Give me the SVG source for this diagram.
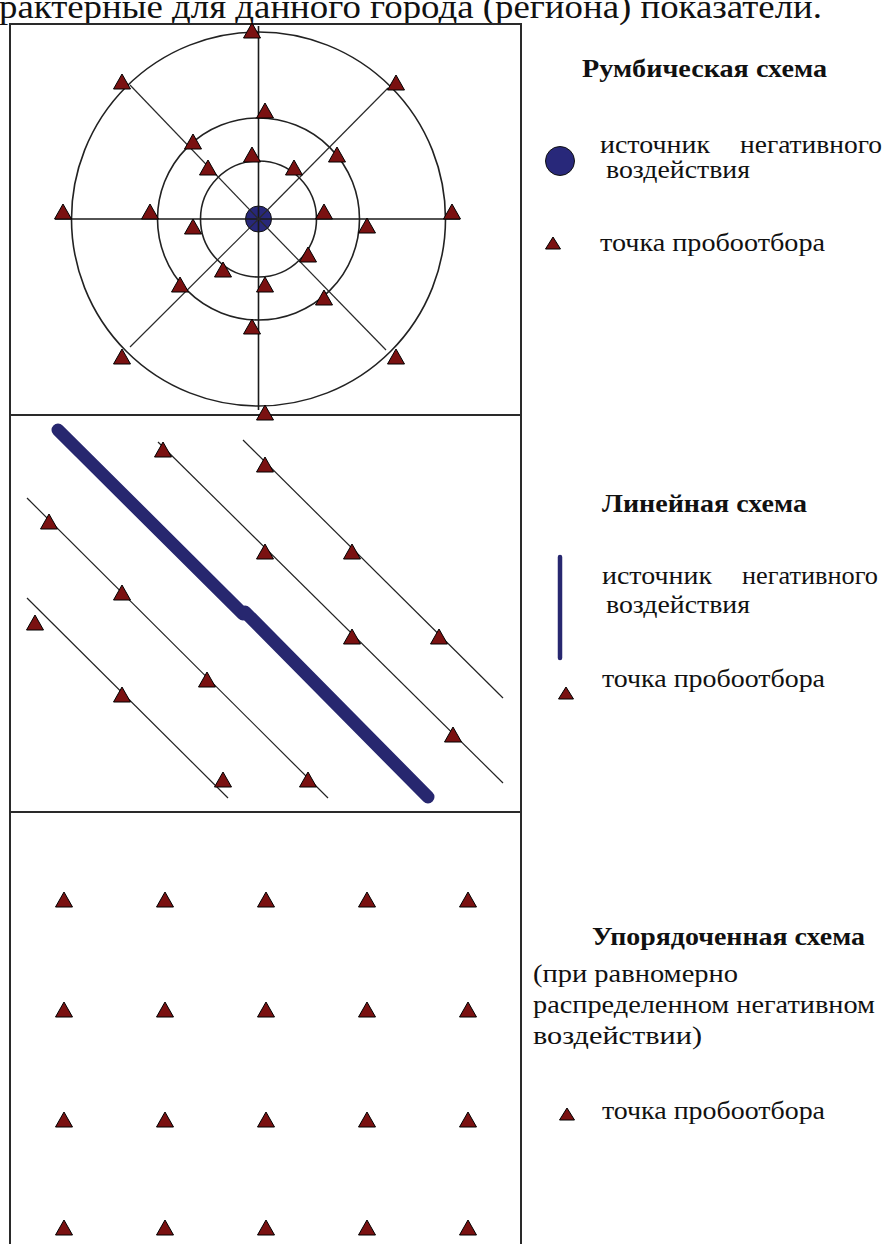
<svg xmlns="http://www.w3.org/2000/svg" xmlns:xlink="http://www.w3.org/1999/xlink" width="883" height="1244" viewBox="0 0 883 1244">
<style>
.frame{stroke:#2a2a2a;stroke-width:2;fill:none}
.ring{stroke:#222;stroke-width:1.6;fill:none}
.axis{stroke:#1a1a1a;stroke-width:1.6}
.spoke{stroke:#2a2a2a;stroke-width:1.2}
.thin{stroke:#222;stroke-width:1.2}
.tri{fill:#7a1111;stroke:#000;stroke-width:1;stroke-linejoin:miter}
.src{fill:#28287a;stroke:#111;stroke-width:1}
.band{stroke:#27276f;stroke-width:13;stroke-linecap:round;fill:none}
.t{font-family:"Liberation Serif","Times New Roman",serif;fill:#111;font-size:25px}
.b{font-weight:bold}
.h{font-family:"Liberation Serif","Times New Roman",serif;fill:#111;font-size:34px}
</style>
<defs>
<path id="tri" class="tri" d="M0,-8 L8.5,7 L-8.5,7 Z"/>
<path id="tris" class="tri" d="M0,-6 L7.5,6 L-7.5,6 Z"/>
</defs>
<rect width="883" height="1244" fill="#fff"/>
<text class="h" x="-1" y="18" textLength="823" lengthAdjust="spacingAndGlyphs">рактерные для данного города (региона) показатели.</text>
<g id="frame">
<line class="frame" x1="10" y1="24" x2="10" y2="1244"/>
<line class="frame" x1="521" y1="24" x2="521" y2="1244"/>
<line class="frame" x1="9" y1="24" x2="522" y2="24"/>
<line class="frame" x1="9" y1="415" x2="522" y2="415"/>
<line class="frame" x1="9" y1="812" x2="522" y2="812"/>
</g>
<g id="rumb-scheme">
<circle class="ring" cx="258.5" cy="219" r="58"/>
<circle class="ring" cx="258.5" cy="219" r="101"/>
<circle class="ring" cx="258.5" cy="219" r="187"/>
<circle id="rumb-source" class="src" cx="258.5" cy="219" r="13"/>
<g id="connectors">
<line class="axis" x1="258.5" y1="26" x2="258.5" y2="410"/>
<line class="axis" x1="55" y1="219" x2="460" y2="219"/>
<line class="spoke" x1="258.5" y1="219" x2="130" y2="85"/>
<line class="spoke" x1="258.5" y1="219" x2="388" y2="88"/>
<line class="spoke" x1="258.5" y1="219" x2="130" y2="347"/>
<line class="spoke" x1="258.5" y1="219" x2="386" y2="350"/>
</g>
<g id="rumb-points">
<use xlink:href="#tri" x="122" y="82"/><use xlink:href="#tri" x="396" y="83"/>
<use xlink:href="#tri" x="122" y="357"/><use xlink:href="#tri" x="396" y="357"/>
<use xlink:href="#tri" x="63" y="212"/><use xlink:href="#tri" x="452" y="212"/>
<use xlink:href="#tri" x="252" y="31"/><use xlink:href="#tri" x="265" y="413"/>
<use xlink:href="#tri" x="265" y="111"/><use xlink:href="#tri" x="193" y="142"/>
<use xlink:href="#tri" x="337" y="155"/><use xlink:href="#tri" x="150" y="212"/>
<use xlink:href="#tri" x="367" y="226"/><use xlink:href="#tri" x="180" y="285"/>
<use xlink:href="#tri" x="324" y="298"/><use xlink:href="#tri" x="252" y="327"/>
<use xlink:href="#tri" x="252" y="155"/><use xlink:href="#tri" x="208" y="168"/>
<use xlink:href="#tri" x="294" y="168"/><use xlink:href="#tri" x="193" y="227"/>
<use xlink:href="#tri" x="324" y="212"/><use xlink:href="#tri" x="223" y="270"/>
<use xlink:href="#tri" x="308" y="255"/><use xlink:href="#tri" x="265" y="285"/>
</g>
</g>
<g id="linear-scheme">
<g id="linear-source">
<line class="band" x1="58" y1="430" x2="243" y2="614"/>
<line class="band" x1="245" y1="612" x2="428" y2="797"/>
</g>
<g id="linear-lines">
<line class="thin" x1="27" y1="598" x2="228" y2="798"/>
<line class="thin" x1="27" y1="498" x2="328" y2="798"/>
<line class="thin" x1="158" y1="442" x2="503" y2="783"/>
<line class="thin" x1="243" y1="440" x2="503" y2="698"/>
</g>
<g id="linear-points">
<use xlink:href="#tri" x="163" y="450"/><use xlink:href="#tri" x="265" y="552"/>
<use xlink:href="#tri" x="352" y="637"/><use xlink:href="#tri" x="453" y="735"/>
<use xlink:href="#tri" x="265" y="465"/><use xlink:href="#tri" x="352" y="552"/>
<use xlink:href="#tri" x="439" y="637"/><use xlink:href="#tri" x="49" y="522"/>
<use xlink:href="#tri" x="122" y="593"/><use xlink:href="#tri" x="207" y="680"/>
<use xlink:href="#tri" x="308" y="780"/><use xlink:href="#tri" x="122" y="695"/>
<use xlink:href="#tri" x="223" y="780"/><use xlink:href="#tri" x="35" y="623"/>
</g>
</g>
<g id="grid-scheme">
<use xlink:href="#tri" x="64" y="900"/><use xlink:href="#tri" x="165" y="900"/><use xlink:href="#tri" x="266" y="900"/><use xlink:href="#tri" x="367" y="900"/><use xlink:href="#tri" x="468" y="900"/>
<use xlink:href="#tri" x="64" y="1010"/><use xlink:href="#tri" x="165" y="1010"/><use xlink:href="#tri" x="266" y="1010"/><use xlink:href="#tri" x="367" y="1010"/><use xlink:href="#tri" x="468" y="1010"/>
<use xlink:href="#tri" x="64" y="1120"/><use xlink:href="#tri" x="165" y="1120"/><use xlink:href="#tri" x="266" y="1120"/><use xlink:href="#tri" x="367" y="1120"/><use xlink:href="#tri" x="468" y="1120"/>
<use xlink:href="#tri" x="64" y="1228"/><use xlink:href="#tri" x="165" y="1228"/><use xlink:href="#tri" x="266" y="1228"/><use xlink:href="#tri" x="367" y="1228"/><use xlink:href="#tri" x="468" y="1228"/>
</g>
<g id="legend-rumb">
<text class="t b" x="582" y="77" textLength="245" lengthAdjust="spacingAndGlyphs">Румбическая схема</text>
<circle class="src" cx="560" cy="161" r="14.5"/>
<text class="t" x="600" y="153" textLength="110" lengthAdjust="spacingAndGlyphs">источник</text>
<text class="t" x="740" y="153" textLength="142" lengthAdjust="spacingAndGlyphs">негативного</text>
<text class="t" x="606" y="178" textLength="144" lengthAdjust="spacingAndGlyphs">воздействия</text>
<use xlink:href="#tris" x="553" y="243"/>
<text class="t" x="600" y="251" textLength="225" lengthAdjust="spacingAndGlyphs">точка пробоотбора</text>
</g>
<g id="legend-linear">
<text class="t b" x="602" y="512" textLength="205" lengthAdjust="spacingAndGlyphs">Линейная схема</text>
<line x1="560" y1="557" x2="560" y2="658" stroke="#27276f" stroke-width="4.5" stroke-linecap="round"/>
<text class="t" x="602" y="584" textLength="110" lengthAdjust="spacingAndGlyphs">источник</text>
<text class="t" x="742" y="584" textLength="136" lengthAdjust="spacingAndGlyphs">негативного</text>
<text class="t" x="606" y="613" textLength="144" lengthAdjust="spacingAndGlyphs">воздействия</text>
<use xlink:href="#tris" x="566" y="693"/>
<text class="t" x="602" y="687" textLength="223" lengthAdjust="spacingAndGlyphs">точка пробоотбора</text>
</g>
<g id="legend-grid">
<text class="t b" x="592" y="945" textLength="273" lengthAdjust="spacingAndGlyphs">Упорядоченная схема</text>
<text class="t" x="533" y="982" textLength="205" lengthAdjust="spacingAndGlyphs">(при равномерно</text>
<text class="t" x="533" y="1013" textLength="342" lengthAdjust="spacingAndGlyphs">распределенном негативном</text>
<text class="t" x="533" y="1044" textLength="169" lengthAdjust="spacingAndGlyphs">воздействии)</text>
<use xlink:href="#tris" x="567" y="1114"/>
<text class="t" x="602" y="1119" textLength="223" lengthAdjust="spacingAndGlyphs">точка пробоотбора</text>
</g>
</svg>
